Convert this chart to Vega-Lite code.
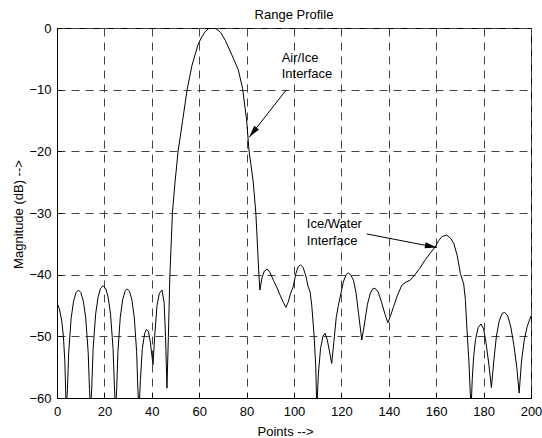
{
  "$schema": "https://vega.github.io/schema/vega-lite/v6.json",
  "width": 474,
  "height": 370,
  "autosize": {"type": "none"},
  "padding": {"left": 57, "top": 28, "right": 11, "bottom": 40},
  "background": "white",
  "title": {"text": "Range Profile", "fontSize": 13, "fontWeight": "normal", "font": "Liberation Sans", "color": "black", "offset": 7, "baseline": "alphabetic", "dy": 17},
  "config": {
    "view": {"stroke": "black", "strokeWidth": 1},
    "axis": {
      "labelFont": "Liberation Sans", "labelFontSize": 13, "labelColor": "black",
      "titleFont": "Liberation Sans", "titleFontSize": 13, "titleFontWeight": "normal", "titleColor": "black",
      "domainColor": "black", "tickColor": "black", "gridColor": "#444444", "gridOpacity": 1, "gridDash": [8, 6], "gridWidth": 1
    }
  },
  "datasets": {
    "curve": [
      {"x": 0, "y": -44.6}, {"x": 1, "y": -45.5}, {"x": 2, "y": -47.5}, {"x": 2.7, "y": -50}, {"x": 3.3, "y": -54}, {"x": 3.9, "y": -62},
      {"x": 4.4, "y": -58.6}, {"x": 4.93, "y": -52.7}, {"x": 5.96, "y": -47.1}, {"x": 6.99, "y": -44.3}, {"x": 8.02, "y": -42.9}, {"x": 9.05, "y": -42.5}, {"x": 10.08, "y": -42.9}, {"x": 11.11, "y": -44.3}, {"x": 12.14, "y": -47.1}, {"x": 13.17, "y": -52.7}, {"x": 13.7, "y": -58.6}, {"x": 14.2, "y": -62},
      {"x": 14.7, "y": -57.9}, {"x": 15.25, "y": -52.0}, {"x": 16.3, "y": -46.4}, {"x": 17.35, "y": -43.6}, {"x": 18.4, "y": -42.2}, {"x": 19.45, "y": -41.8}, {"x": 20.5, "y": -42.2}, {"x": 21.55, "y": -43.6}, {"x": 22.6, "y": -46.4}, {"x": 23.65, "y": -52.0}, {"x": 24.2, "y": -57.9}, {"x": 24.7, "y": -62},
      {"x": 25.2, "y": -58.4}, {"x": 25.7, "y": -52.5}, {"x": 26.7, "y": -46.9}, {"x": 27.7, "y": -44.1}, {"x": 28.7, "y": -42.7}, {"x": 29.65, "y": -42.3}, {"x": 30.6, "y": -42.7}, {"x": 31.6, "y": -44.1}, {"x": 32.6, "y": -46.9}, {"x": 33.6, "y": -52.5}, {"x": 34.1, "y": -58.4}, {"x": 34.6, "y": -62},
      {"x": 35.2, "y": -57}, {"x": 36, "y": -52}, {"x": 37, "y": -49.5}, {"x": 37.7, "y": -48.9}, {"x": 38.6, "y": -49.2}, {"x": 39.4, "y": -51}, {"x": 40.5, "y": -54.6}, {"x": 41.2, "y": -50}, {"x": 42.2, "y": -45}, {"x": 43.2, "y": -43}, {"x": 44.3, "y": -42.5}, {"x": 45.2, "y": -44.5}, {"x": 45.8, "y": -50}, {"x": 46.4, "y": -58.4},
      {"x": 47, "y": -50}, {"x": 47.6, "y": -40.5}, {"x": 48.7, "y": -30}, {"x": 49.8, "y": -25}, {"x": 51.1, "y": -20}, {"x": 53, "y": -15}, {"x": 54.9, "y": -10}, {"x": 57, "y": -6}, {"x": 59.5, "y": -2.7}, {"x": 61, "y": -1.5}, {"x": 62.5, "y": -0.6}, {"x": 64, "y": -0.1}, {"x": 65.5, "y": 0}, {"x": 67, "y": -0.1}, {"x": 69, "y": -0.7}, {"x": 71, "y": -2}, {"x": 72.9, "y": -3.6}, {"x": 74.5, "y": -5}, {"x": 76.5, "y": -6.8}, {"x": 78.3, "y": -9.8}, {"x": 80, "y": -14.9}, {"x": 81, "y": -19.8}, {"x": 82.8, "y": -25}, {"x": 83.9, "y": -30}, {"x": 85.2, "y": -40}, {"x": 85.6, "y": -42.5},
      {"x": 86.5, "y": -40.5}, {"x": 87.5, "y": -39.4}, {"x": 88.7, "y": -39.1}, {"x": 89.8, "y": -39.6}, {"x": 91.3, "y": -40.9}, {"x": 92.7, "y": -42}, {"x": 94.1, "y": -43.3}, {"x": 95.5, "y": -44.5}, {"x": 96.6, "y": -45.3}, {"x": 97.5, "y": -44.5}, {"x": 98.6, "y": -43}, {"x": 99.7, "y": -41.9}, {"x": 100.8, "y": -39.8}, {"x": 101.8, "y": -38.7}, {"x": 102.8, "y": -38.4}, {"x": 103.8, "y": -38.8}, {"x": 105, "y": -40.2}, {"x": 106, "y": -42}, {"x": 106.8, "y": -42.8}, {"x": 107.5, "y": -45}, {"x": 108.5, "y": -50}, {"x": 109.2, "y": -55}, {"x": 109.6, "y": -62},
      {"x": 110.3, "y": -56}, {"x": 111.2, "y": -52}, {"x": 112.2, "y": -50}, {"x": 113.1, "y": -49.5}, {"x": 114, "y": -50.5}, {"x": 115, "y": -52.5}, {"x": 115.9, "y": -54.4}, {"x": 116.8, "y": -51}, {"x": 117.8, "y": -47}, {"x": 118.7, "y": -45}, {"x": 119.5, "y": -43.6}, {"x": 120.8, "y": -41.2}, {"x": 122, "y": -40}, {"x": 123, "y": -39.7}, {"x": 124, "y": -40.1}, {"x": 125.1, "y": -40.9}, {"x": 126.2, "y": -43}, {"x": 127.3, "y": -46.5}, {"x": 128.6, "y": -50.6}, {"x": 129.3, "y": -49}, {"x": 130, "y": -47.3}, {"x": 131, "y": -44.8}, {"x": 132.2, "y": -43}, {"x": 133.2, "y": -42.3}, {"x": 134.2, "y": -42.2}, {"x": 135.5, "y": -42.8}, {"x": 136.8, "y": -44.3}, {"x": 138.3, "y": -46.3}, {"x": 139.6, "y": -47.8}, {"x": 140.8, "y": -46.6}, {"x": 142, "y": -45.2}, {"x": 143.5, "y": -43.5}, {"x": 145.5, "y": -41.7}, {"x": 147.3, "y": -41.2}, {"x": 149, "y": -40.9}, {"x": 151, "y": -40}, {"x": 153, "y": -39}, {"x": 155.4, "y": -37.6}, {"x": 157.5, "y": -36.5}, {"x": 159.6, "y": -35.5}, {"x": 161, "y": -34.5}, {"x": 162.5, "y": -33.8}, {"x": 164.3, "y": -33.6}, {"x": 165.9, "y": -34}, {"x": 167.4, "y": -34.9}, {"x": 168.8, "y": -36.8}, {"x": 170.2, "y": -39.8}, {"x": 171.6, "y": -41.5}, {"x": 172.3, "y": -44}, {"x": 173, "y": -49}, {"x": 173.8, "y": -54}, {"x": 174.7, "y": -62},
      {"x": 175.2, "y": -57}, {"x": 175.8, "y": -53.3}, {"x": 176.6, "y": -50.5}, {"x": 177.7, "y": -48.6}, {"x": 178.9, "y": -48}, {"x": 180, "y": -48.8}, {"x": 181, "y": -51}, {"x": 182.2, "y": -54.5}, {"x": 183.3, "y": -58.3}, {"x": 184.3, "y": -54}, {"x": 185.4, "y": -50}, {"x": 186.6, "y": -47.5}, {"x": 187.8, "y": -46.3}, {"x": 188.9, "y": -46.1}, {"x": 190.2, "y": -46.7}, {"x": 191.5, "y": -48.5}, {"x": 192.8, "y": -51.5}, {"x": 194, "y": -55}, {"x": 195, "y": -59.2}, {"x": 196, "y": -54}, {"x": 197.2, "y": -50.5}, {"x": 198.4, "y": -48.4}, {"x": 200, "y": -46.7}
    ],
    "arrows": [
      {"name": "air", "x": 96.6, "y": -10.1, "x2": 81.1, "y2": -17.7},
      {"name": "water", "x": 130.7, "y": -33.4, "x2": 160.3, "y2": -35.6}
    ],
    "labels": [
      {"x": 94.8, "y": -5.46, "text": "Air/Ice"},
      {"x": 94.8, "y": -8.16, "text": "Interface"},
      {"x": 105.4, "y": -32.5, "text": "Ice/Water"},
      {"x": 105.4, "y": -35.2, "text": "Interface"}
    ]
  },
  "layer": [
    {
      "data": {"name": "curve"},
      "mark": {"type": "line", "color": "black", "strokeWidth": 1, "clip": true},
      "encoding": {
        "x": {"field": "x", "type": "quantitative", "scale": {"domain": [0, 200], "nice": false},
              "axis": {"title": "Points -->", "values": [0, 20, 40, 60, 80, 100, 120, 140, 160, 180, 200], "grid": true, "tickSize": -5, "labelPadding": 12, "titleX": 228, "titleY": 33, "titleBaseline": "middle", "labelFlush": false}},
        "y": {"field": "y", "type": "quantitative", "scale": {"domain": [-60, 0], "nice": false},
              "axis": {"title": "Magnitude (dB) -->", "values": [0, -10, -20, -30, -40, -50, -60], "grid": true, "tickSize": -5, "labelPadding": 11, "titleX": -39, "titleY": 186, "titleBaseline": "middle", "titleAngle": -90, "titleAnchor": "middle"}}
      }
    },
    {
      "data": {"name": "arrows"},
      "mark": {"type": "rule", "color": "black", "strokeWidth": 1},
      "encoding": {
        "x": {"field": "x", "type": "quantitative"},
        "y": {"field": "y", "type": "quantitative"},
        "x2": {"field": "x2"},
        "y2": {"field": "y2"}
      }
    },
    {
      "data": {"name": "arrows"},
      "transform": [{"filter": "datum.name == 'air'"}],
      "mark": {"type": "point", "shape": "M0,0L-0.25,1L0.25,1Z", "filled": true, "color": "black", "opacity": 1, "size": 576, "angle": 217.8},
      "encoding": {
        "x": {"field": "x2", "type": "quantitative"},
        "y": {"field": "y2", "type": "quantitative"}
      }
    },
    {
      "data": {"name": "arrows"},
      "transform": [{"filter": "datum.name == 'water'"}],
      "mark": {"type": "point", "shape": "M0,0L-0.25,1L0.25,1Z", "filled": true, "color": "black", "opacity": 1, "size": 576, "angle": 100.8},
      "encoding": {
        "x": {"field": "x2", "type": "quantitative"},
        "y": {"field": "y2", "type": "quantitative"}
      }
    },
    {
      "data": {"name": "labels"},
      "mark": {"type": "text", "align": "left", "baseline": "alphabetic", "font": "Liberation Sans", "fontSize": 13, "color": "black"},
      "encoding": {
        "x": {"field": "x", "type": "quantitative"},
        "y": {"field": "y", "type": "quantitative"},
        "text": {"field": "text"}
      }
    }
  ]
}
